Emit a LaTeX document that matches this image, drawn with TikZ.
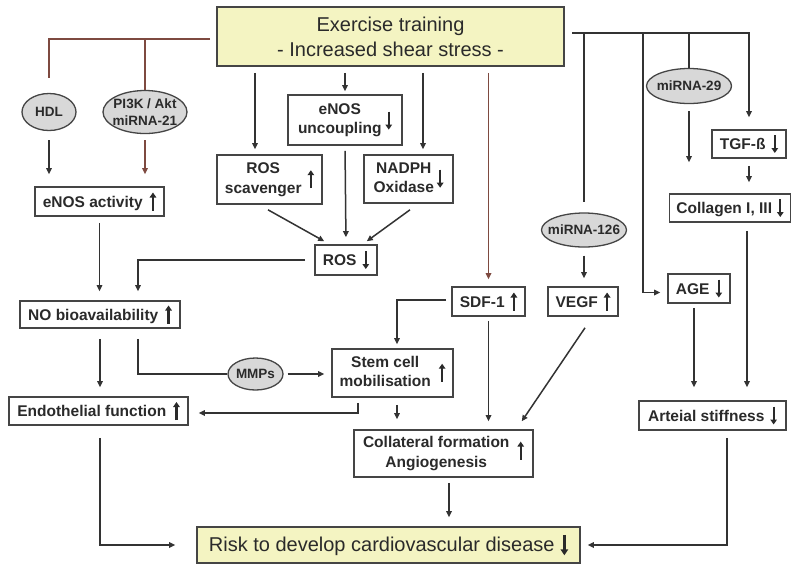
\documentclass[tikz,border=0pt]{standalone}
\usepackage{fontspec}
\setmainfont{Liberation Sans}
\usetikzlibrary{arrows.meta,shapes.geometric,calc}
\definecolor{ln}{HTML}{333333}
\definecolor{br}{HTML}{7E4A40}
\definecolor{bx}{HTML}{454545}
\definecolor{yel}{HTML}{F4F4C2}
\definecolor{elf}{HTML}{D8D8D8}
\definecolor{tx}{HTML}{2A2A2A}
\newcommand\UA{\tikz[baseline=0pt]\draw[line width=2.2pt,-{Triangle[length=5pt,width=6.5pt]}] (0pt,-3.5pt) -- (0pt,14.5pt);}
\newcommand\DA{\tikz[baseline=0pt]\draw[line width=2.2pt,-{Triangle[length=5pt,width=6.5pt]}] (0pt,14.5pt) -- (0pt,-3.5pt);}
\newcommand\DAL{\tikz[baseline=0pt]\draw[line width=2.6pt,-{Triangle[length=6pt,width=7.5pt]}] (0pt,17pt) -- (0pt,-3.5pt);}
\newcommand\TL[2]{\begin{tabular}{@{}c@{}}#1\\#2\end{tabular}}
\begin{document}
\begin{tikzpicture}[x=1pt,y=-1pt,
  box/.style={draw=bx, line width=1.6pt, fill=white, inner sep=0pt, text=tx,
    font=\fontsize{15.5}{19.5}\selectfont\bfseries, align=center},
  bigbox/.style={box, fill=yel, font=\fontsize{20}{25}\selectfont},
  ell/.style={ellipse, draw=bx, line width=1.3pt, fill=elf, inner sep=0pt},
  etxt/.style={inner sep=0pt, text=tx, align=center, font=\fontsize{13.5}{16.5}\selectfont\bfseries},
  conn/.style={draw=ln, line width=1.5pt, -{Triangle[length=6pt,width=5.5pt]}},
  plain/.style={draw=ln, line width=1.5pt},
]
\useasboundingbox (0,0) rectangle (794,566);

% nodes
\node[bigbox, minimum width=347pt, minimum height=59pt] (ex) at (390.5,36.5) {Exercise training\\- Increased shear stress -};
\node[ell, minimum width=54pt, minimum height=37pt, label={[etxt]center:HDL}] (hdl) at (49,112) {};
\node[ell, minimum width=84pt, minimum height=43pt, label={[etxt]center:PI3K / Akt\\miRNA-21}] (pi3k) at (145,112) {};
\node[box, minimum width=129pt, minimum height=29pt] (ea) at (99.5,201.5) {eNOS activity\hspace{7pt}\UA};
\node[box, minimum width=105pt, minimum height=49pt] (scav) at (269.5,179.5) {\TL{ROS}{scavenger}\hspace{6pt}\raisebox{-1.6pt}{\UA}};
\node[box, minimum width=114pt, minimum height=50pt] (unc) at (345,120) {\TL{eNOS}{uncoupling}\hspace{4pt}\raisebox{-2.5pt}{\DA}};
\node[box, minimum width=89pt, minimum height=48pt] (nadph) at (408.5,179) {\TL{NADPH}{Oxidase}\hspace{3pt}\raisebox{-1.6pt}{\DA}};
\node[box, minimum width=62pt, minimum height=30pt] (ros) at (346,260) {ROS\hspace{6pt}\DA};
\node[box, minimum width=160pt, minimum height=27pt] (no) at (100,314.5) {NO bioavailability\hspace{7pt}\UA};
\node[ell, minimum width=55pt, minimum height=32pt, label={[etxt]center:MMPs}] (mmps) at (255.5,374) {};
\node[box, minimum width=179pt, minimum height=28pt] (endo) at (98.5,411) {Endothelial function\hspace{7pt}\UA};
\node[box, minimum width=121pt, minimum height=48pt] (stem) at (392.5,373) {\TL{Stem cell}{mobilisation}\hspace{8pt}\raisebox{-1.6pt}{\UA}};
\node[box, minimum width=179pt, minimum height=47pt] (coll) at (443.5,453.5) {\TL{Collateral formation}{Angiogenesis}\hspace{8pt}\raisebox{1pt}{\UA}};
\node[box, minimum width=73pt, minimum height=29pt] (sdf) at (488.5,301.5) {SDF-1\hspace{6pt}\UA};
\node[box, minimum width=70pt, minimum height=29pt] (vegf) at (583,301.5) {VEGF\hspace{6pt}\UA};
\node[ell, minimum width=85pt, minimum height=34pt, label={[etxt]center:miRNA-126}] (m126) at (584,230) {};
\node[ell, minimum width=85pt, minimum height=35pt, label={[etxt]center:miRNA-29}] (m29) at (689,86) {};
\node[box, minimum width=74pt, minimum height=28pt] (tgf) at (749,144) {TGF-ß\hspace{6pt}\DA};
\node[box, minimum width=121pt, minimum height=28pt] (col13) at (730,208) {Collagen I, III\hspace{5pt}\DA};
\node[box, minimum width=62pt, minimum height=29pt] (age) at (699,288.5) {AGE\hspace{6pt}\DA};
\node[box, minimum width=147pt, minimum height=29pt] (art) at (712.5,415.5) {Arteial stiffness\hspace{6pt}\DA};
\node[bigbox, minimum width=383pt, minimum height=36pt] (risk) at (388.5,545) {Risk to develop cardiovascular disease\hspace{6pt}\DAL};

% helper coordinates
\coordinate (lb) at (210,39);
\coordinate (rb) at (572,33);
\coordinate (x255) at (255,0);
\coordinate (x423) at (423,0);
\coordinate (x138) at (138,0);
\coordinate (x358) at (358,0);
\coordinate (x397) at (397,0);
\coordinate (x449) at (449,0);
\coordinate (x643) at (643,0);
\coordinate (x694) at (694,0);
\coordinate (x747) at (747,0);
\coordinate (x727) at (727,0);
\coordinate (x100) at (100,0);

% left branch
\draw[plain, draw=br, shorten >=15pt] (lb) -| (hdl.north);
\draw[plain, draw=br] (lb -| pi3k) -- (pi3k.north);
\draw[conn, shorten <=9pt, shorten >=12pt] (hdl.south) -- (hdl.south |- ea.north);
\draw[conn, draw=br, shorten <=6pt, shorten >=12pt] (pi3k.south) -- (pi3k.south |- ea.north);

% from exercise box downwards
\draw[conn, shorten <=6pt, shorten >=5pt] (ex.south -| x255) -- (scav.north -| x255);
\draw[conn, shorten <=6pt, shorten >=3pt] (ex.south -| unc) -- (unc.north);
\draw[conn, shorten <=6pt, shorten >=5pt] (ex.south -| x423) -- (nadph.north -| x423);
\draw[conn, draw=br, shorten <=6pt, shorten >=7pt] (ex.south -| sdf) -- (sdf.north);

% into ROS
\draw[conn] ($(scav.south)+(-1.5,5)$) -- ($(ros.north west)+(10,-3)$);
\draw[conn, shorten <=5pt, shorten >=7pt] (unc.south) -- (ros.north);
\draw[conn] ($(nadph.south)+(1.5,6)$) -- ($(ros.north east)+(-11,-3)$);

% ROS and eNOS activity to NO
\draw[conn, shorten >=9pt] ([xshift=-9pt]ros.west) -| (no.north -| x138);
\draw[conn, shorten <=6pt, shorten >=9pt] (ea.south) -- (ea.south |- no.north);

% NO onwards
\draw[conn, shorten <=10pt, shorten >=9pt] (no.south -| x100) -- (endo.north -| x100);
\draw[plain, shorten <=10pt] (no.south -| x138) |- (mmps.west);
\draw[conn, shorten <=4pt, shorten >=7pt] (mmps.east) -- (mmps.east -| stem.west);

% stem cell
\draw[conn, shorten <=5pt, shorten >=10pt] (stem.south -| x358) |- ([yshift=-2pt]endo.east);
\draw[conn, shorten <=7pt, shorten >=10pt] (stem.south -| x397) -- (coll.north -| x397);

% SDF-1
\draw[conn, shorten <=5pt, shorten >=4pt] ([yshift=1.5pt]sdf.west) -| (stem.north -| x397);
\draw[conn, shorten <=4pt, shorten >=8pt] (sdf.south) -- (sdf.south |- coll.north);

% right branch
\draw[conn, shorten >=12pt] (rb) -| (tgf.north);
\draw[plain, shorten >=10pt] (rb -| m126) -- (m126.north);
\draw[conn, shorten >=7pt] (rb -| x643) |- ([yshift=-4pt]age.west);
\draw[plain] (rb -| m29) -- (m29.north);
\draw[conn, shorten <=7pt, shorten >=31pt] (m29.south) -- (m29.south |- col13.north);

% miRNA-126 / VEGF
\draw[conn, shorten <=8pt, shorten >=8pt] (m126.south) -- (m126.south |- vegf.north);
\draw[conn] ($(vegf.south)+(2,11)$) -- ($(coll.north east)+(-12,-8)$);

% TGF / collagen / AGE / arterial stiffness
\draw[conn, shorten <=7pt, shorten >=11pt] (tgf.south) -- (tgf.south |- col13.north);
\draw[conn, shorten <=4pt, shorten >=13pt] (age.south -| x694) -- (art.north -| x694);
\draw[conn, shorten <=8pt, shorten >=13pt] (col13.south -| x747) -- (art.north -| x747);

% to risk
\draw[conn, shorten <=7pt, shorten >=7pt] (art.south -| x727) |- (risk.east);
\draw[conn, shorten <=5pt, shorten >=9pt] (coll.south -| x449) -- (risk.north -| x449);
\draw[conn, shorten <=12pt, shorten >=21pt] (endo.south -| x100) |- (risk.west);
\end{tikzpicture}
\end{document}
